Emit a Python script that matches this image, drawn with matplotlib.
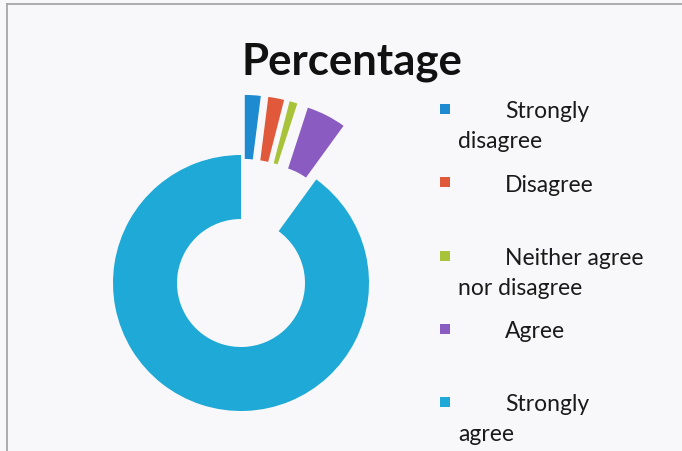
import matplotlib
matplotlib.use("Agg")
import matplotlib.pyplot as plt
from matplotlib.patches import Rectangle

# Survey response shares (percent)
categories = ["Strongly disagree", "Disagree", "Neither agree nor disagree", "Agree", "Strongly agree"]
values = [2, 2, 1, 5, 90]
colors = ["#1E8BD0", "#E0593A", "#A8C23A", "#8A5CC2", "#1EA9D6"]
# legend labels as they wrap in the original
legend_lines = [["Strongly", "disagree"], ["Disagree"], ["Neither agree", "nor disagree"],
                ["Agree"], ["Strongly", "agree"]]

W, H = 682, 452
fig = plt.figure(figsize=(W / 100, H / 100), dpi=100)
fig.patch.set_facecolor("#F8F8FA")

# Donut chart, small slices pulled out
ax = fig.add_axes([0, 0, 1, 1])
ax.pie(values, colors=colors, startangle=90, counterclock=False,
       explode=[0.47, 0.47, 0.47, 0.47, 0],
       wedgeprops=dict(width=0.5, linewidth=0))
cx, cy, r = 241, 284, 128
ax.set_xlim(-cx / r, (W - cx) / r)
ax.set_ylim(-(H - cy) / r, cy / r)
ax.set_aspect("equal")
ax.axis("off")

# chart frame (cropped on right and bottom)
fig.add_artist(plt.Line2D([7 / W, 1], [1 - 5 / H, 1 - 5 / H], color="#A0A0A0", lw=1.2))
fig.add_artist(plt.Line2D([7 / W, 7 / W], [0, 1 - 5 / H], color="#A0A0A0", lw=1.2))

# Title
fig.text(352 / W, 1 - 62 / H, "Percentage", ha="center", va="center",
         fontsize=31.5, fontweight="bold", family="Lato", color="#111111")

# Legend drawn by hand to keep the wrapped layout
for i, (lines, col) in enumerate(zip(legend_lines, colors)):
    y = 110 + i * 73.25
    fig.add_artist(Rectangle((440 / W, 1 - (y + 5) / H), 10 / W, 10 / H,
                             transform=fig.transFigure, color=col, lw=0))
    fig.text(505 / W, 1 - (y + 2) / H, lines[0], ha="left", va="center",
             fontsize=16.5, family="Lato", color="#1A1A1A")
    if len(lines) > 1:
        fig.text(458 / W, 1 - (y + 32) / H, lines[1], ha="left", va="center",
                 fontsize=16.5, family="Lato", color="#1A1A1A")

plt.savefig("out.png", dpi=100, facecolor=fig.get_facecolor())
plt.close()
